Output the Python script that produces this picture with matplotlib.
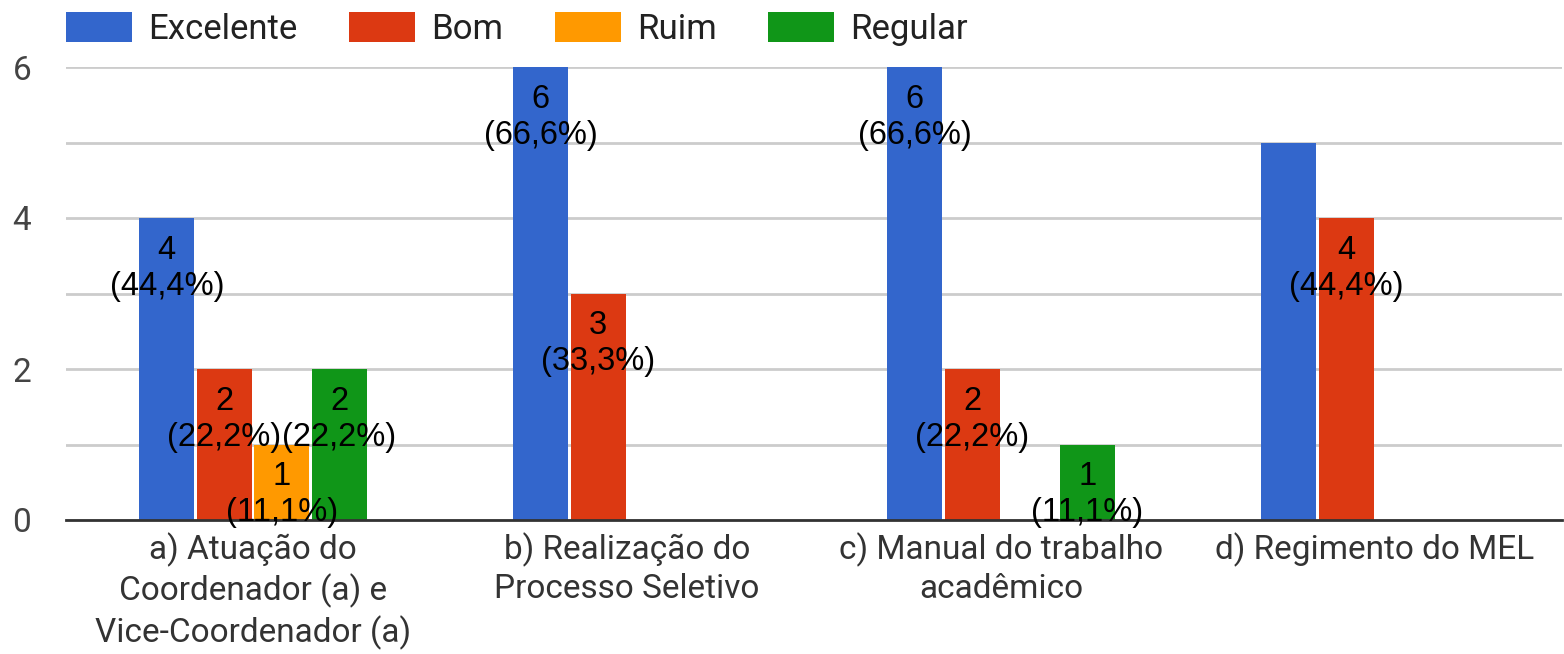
import matplotlib
matplotlib.use("Agg")
import matplotlib.pyplot as plt
from matplotlib.patches import Patch
import numpy as np

# data
categories = ["a) Atuação do\nCoordenador (a) e\nVice-Coordenador (a)",
              "b) Realização do\nProcesso Seletivo",
              "c) Manual do trabalho\nacadêmico",
              "d) Regimento do MEL"]
series = ["Excelente", "Bom", "Ruim", "Regular"]
excelente = [4, 6, 6, 5]
bom = [2, 3, 2, 4]
ruim = [1, 0, 0, 0]
regular = [2, 0, 1, 0]
# data labels ("" = no label shown in the original)
lbl_excelente = ["4\n(44,4%)", "6\n(66,6%)", "6\n(66,6%)", ""]
lbl_bom = ["2\n(22,2%)", "3\n(33,3%)", "2\n(22,2%)", "4\n(44,4%)"]
lbl_ruim = ["1\n(11,1%)", "", "", ""]
lbl_regular = ["2\n(22,2%)", "", "1\n(11,1%)", ""]

colors = ["#3366cc", "#dc3912", "#ff9900", "#109618"]
values = [excelente, bom, ruim, regular]
labels = [lbl_excelente, lbl_bom, lbl_ruim, lbl_regular]

fig = plt.figure(figsize=(15.64, 6.54), dpi=100)
ax = fig.add_axes([66 / 1564, 1 - 520 / 654, 1496 / 1564, (520 - 67) / 654])

x = np.arange(len(categories))
slot = 0.1537
for i, (vals, labs, c) in enumerate(zip(values, labels, colors)):
    pos = x + (i - 1.5) * slot
    ax.bar(pos, vals, width=slot * 0.95, color=c, zorder=2)
    for p, v, t in zip(pos, vals, labs):
        if t:
            ax.annotate(t, (p, v), xytext=(0, -12), textcoords="offset points",
                        ha="center", va="top", fontsize=23.5, family="Liberation Sans",
                        color="black", linespacing=1.22, zorder=4,
                        annotation_clip=False)

ax.set_xlim(-0.5, 3.5)
ax.set_ylim(0, 6)
ax.set_yticks([0, 2, 4, 6])
ax.set_yticks([1, 3, 5], minor=True)
ax.grid(axis="y", which="both", color="#cccccc", linewidth=2, zorder=0)
ax.set_axisbelow(True)
ax.tick_params(axis="y", which="both", length=0, pad=25, labelsize=24, labelcolor="#444444")
ax.set_xticks(x)
ax.set_xticklabels(categories, fontsize=24, color="#333333", linespacing=1.25, family="Roboto")
ax.tick_params(axis="x", length=0, pad=9)
for lab in ax.get_yticklabels():
    lab.set_family("Roboto")
for s in ["top", "right", "left"]:
    ax.spines[s].set_visible(False)
ax.spines["bottom"].set_color("#333333")
ax.spines["bottom"].set_linewidth(2)
ax.spines["bottom"].set_zorder(3)

handles = [Patch(facecolor=c, label=s) for c, s in zip(colors, series)]
fig.legend(handles=handles, loc="upper left", bbox_to_anchor=(0.0225, 1.03), ncol=4,
           frameon=False, prop={"family": "Roboto", "size": 25},
           handlelength=1.9, handleheight=0.95, handletextpad=0.45, columnspacing=1.5,
           labelcolor="#222222")

fig.savefig("out.png", dpi=100)
